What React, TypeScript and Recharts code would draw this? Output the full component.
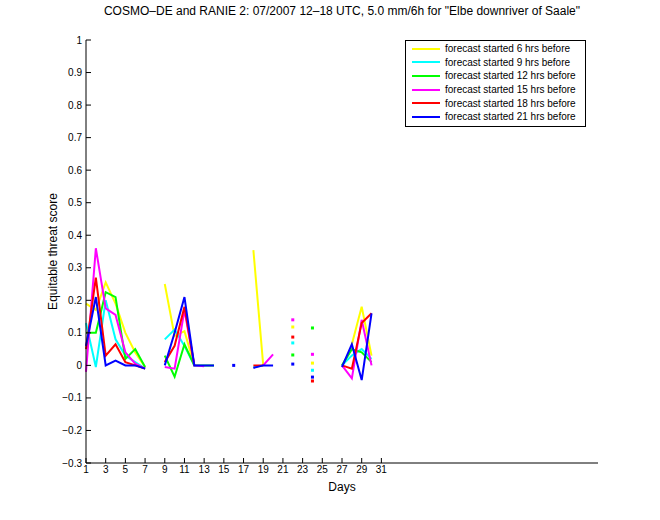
import { LineChart, Line, XAxis, YAxis, Legend } from "recharts";

// day 1..31, null = no score that day
const days = [1, 2, 3, 4, 5, 6, 7, 8, 9, 10, 11, 12, 13, 14, 15, 16, 17, 18, 19, 20, 21, 22, 23, 24, 25, 26, 27, 28, 29, 30, 31];

const fc6 = [0.19, 0.17, 0.255, 0.19, 0.1, 0.04, -0.005, null, 0.25, 0.09, 0.105, 0.0, null, null, null, null, null, 0.354, 0.0, null, null, 0.118, null, 0.007, null, null, null, 0.065, 0.18, 0.03, null];
const fc9 = [0.13, -0.005, 0.2, 0.08, 0.03, 0.01, -0.01, null, 0.08, 0.11, 0.06, 0.0, null, null, null, null, null, -0.005, 0.0, null, null, 0.069, null, -0.015, null, null, 0.0, 0.03, 0.05, 0.02, null];
const fc12 = [0.1, 0.1, 0.225, 0.21, 0.02, 0.05, -0.005, null, 0.03, -0.035, 0.065, 0.0, 0.0, 0.0, null, null, null, null, null, null, null, 0.032, null, 0.115, null, null, 0.0, 0.05, 0.04, 0.01, null];
const fc15 = [-0.02, 0.36, 0.175, 0.155, 0.04, 0.005, -0.01, null, -0.005, -0.01, 0.17, 0.0, -0.003, null, null, null, null, null, 0.0, 0.034, null, 0.14, null, 0.034, null, null, 0.0, -0.04, 0.14, 0.0, null];
const fc18 = [0.05, 0.27, 0.03, 0.065, 0.01, 0.0, -0.01, null, 0.01, 0.06, 0.18, 0.0, null, null, null, null, null, 0.0, 0.0, null, null, 0.087, null, -0.048, null, null, 0.0, -0.01, 0.13, 0.16, null];
const fc21 = [0.06, 0.21, 0.0, 0.015, 0.0, 0.0, -0.01, null, 0.0, 0.1, 0.21, 0.0, 0.0, 0.0, null, 0.0, null, -0.008, 0.0, 0.0, null, 0.004, null, -0.036, null, null, -0.005, 0.065, -0.045, 0.16, null];

const xTicks = [1, 3, 5, 7, 9, 11, 13, 15, 17, 19, 21, 23, 25, 27, 29, 31];
const yTicks = [-0.3, -0.2, -0.1, 0, 0.1, 0.2, 0.3, 0.4, 0.5, 0.6, 0.7, 0.8, 0.9, 1];

const series = [
  { key: "fc6", name: "forecast started 6 hrs before", color: "#ffff00", values: fc6 },
  { key: "fc9", name: "forecast started 9 hrs before", color: "#00ffff", values: fc9 },
  { key: "fc12", name: "forecast started 12 hrs before", color: "#00ff00", values: fc12 },
  { key: "fc15", name: "forecast started 15 hrs before", color: "#ff00ff", values: fc15 },
  { key: "fc18", name: "forecast started 18 hrs before", color: "#ff0000", values: fc18 },
  { key: "fc21", name: "forecast started 21 hrs before", color: "#0000ff", values: fc21 },
];

const data = days.map((d, i) => {
  const row: Record<string, number | null> = { day: d };
  for (const s of series) row[s.key] = s.values[i];
  return row;
});

const FONT = '"Liberation Sans", Arial, Helvetica, sans-serif';

const fmtY = (v: number) => (v < 0 ? "\u2212" + Math.abs(v) : String(v));

// a lone value has no segment, so MATLAB shows it as a point
function loneDot(values: (number | null)[], color: string) {
  return (props: any) => {
    const { cx, cy, index } = props;
    const k = `d-${color}-${index}`;
    const v = values[index];
    const prev = index > 0 ? values[index - 1] : null;
    const next = index < values.length - 1 ? values[index + 1] : null;
    if (v == null || cx == null || cy == null || prev != null || next != null) return <g key={k} />;
    return <rect key={k} x={cx - 1.5} y={cy - 1.5} width={3} height={3} fill={color} />;
  };
}

function LegendBox() {
  return (
    <div style={{ border: "1px solid #000", background: "#fff", width: 179, height: 84, paddingTop: 1, boxSizing: "content-box" }}>
      {series.map(s => (
        <div key={s.key} style={{ display: "flex", alignItems: "center", height: 13.6, fontSize: 10, fontFamily: FONT, color: "#000" }}>
          <span style={{ display: "inline-block", marginLeft: 6, width: 28, height: 2, background: s.color }} />
          <span style={{ marginLeft: 5, whiteSpace: "nowrap" }}>{s.name}</span>
        </div>
      ))}
    </div>
  );
}

export default function App() {
  return (
    <div style={{ position: "absolute", left: 0, top: 0, width: 660, height: 520, background: "#fff", fontFamily: FONT }}>
      <div style={{ position: "absolute", left: 86, width: 512, top: 4, textAlign: "center", fontSize: 12, color: "#000", whiteSpace: "nowrap" }}>
        COSMO–DE and RANIE 2: 07/2007 12–18 UTC, 5.0 mm/6h for "Elbe downriver of Saale"
      </div>
      <LineChart width={660} height={520} data={data} margin={{ top: 40, right: 62, bottom: 27, left: 46 }}>
        <XAxis
          dataKey="day"
          type="number"
          domain={[1, 53]}
          ticks={xTicks}
          interval={0}
          height={30}
          tickSize={-5}
          tickMargin={8}
          tick={{ fill: "#000", fontSize: 10, fontFamily: FONT }}
          axisLine={{ stroke: "#000" }}
          tickLine={{ stroke: "#000" }}
          label={{ value: "Days", position: "insideBottom", offset: 2, fill: "#000", fontSize: 12, fontFamily: FONT }}
        />
        <YAxis
          type="number"
          domain={[-0.3, 1]}
          ticks={yTicks}
          interval={0}
          width={40}
          tickSize={-5}
          tickMargin={9}
          tickFormatter={fmtY}
          tick={{ fill: "#000", fontSize: 10, fontFamily: FONT }}
          axisLine={{ stroke: "#000" }}
          tickLine={{ stroke: "#000" }}
          label={{ value: "Equitable threat score", angle: -90, position: "insideLeft", offset: 7, fill: "#000", fontSize: 12, fontFamily: FONT, style: { textAnchor: "middle" } }}
        />
        <Legend
          layout="vertical"
          align="center"
          verticalAlign="middle"
          wrapperStyle={{ position: "absolute", left: 405, top: 40, width: 181 }}
          content={() => <LegendBox />}
        />
        {series.map(s => (
          <Line
            key={s.key}
            dataKey={s.key}
            name={s.name}
            type="linear"
            stroke={s.color}
            strokeWidth={2}
            connectNulls={false}
            dot={loneDot(s.values, s.color)}
            activeDot={false}
            isAnimationActive={false}
          />
        ))}
      </LineChart>
    </div>
  );
}
